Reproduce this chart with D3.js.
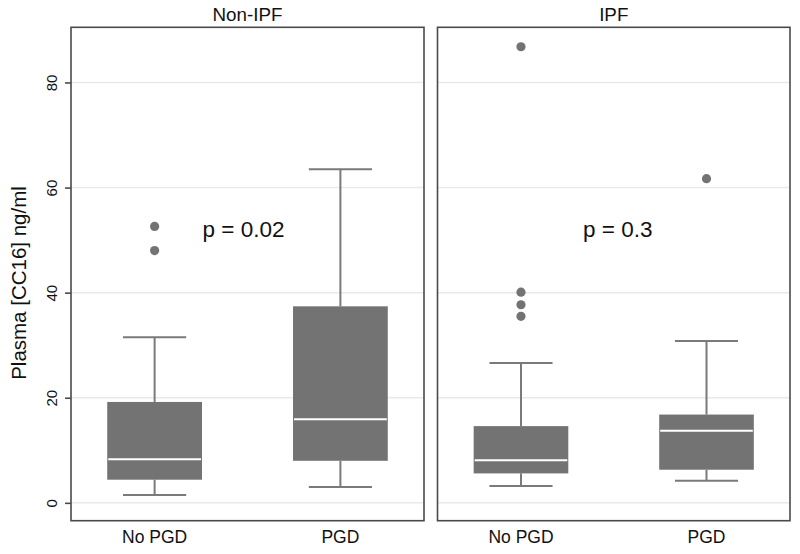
<!DOCTYPE html>
<html><head><meta charset="utf-8">
<script src="https://cdn.jsdelivr.net/npm/d3@7"></script>
<style>body{margin:0;background:#fff;}svg{display:block;font-family:"Liberation Sans",Arial,Helvetica,sans-serif;}</style>
</head><body>
<svg id="chart" width="800" height="554"></svg>
<script>
const panels = ["Non-IPF", "IPF"];
const categories = ["No PGD", "PGD"];
const yTicks = [0, 20, 40, 60, 80];
const pValues = ["p = 0.02", "p = 0.3"];
// [lowerWhisker, q1, median, q3, upperWhisker] per panel, per category
const boxStats = [
  [[1.5, 4.4, 8.3, 19.2, 31.5], [3.0, 8.0, 15.9, 37.4, 63.5]],
  [[3.2, 5.6, 8.1, 14.6, 26.6], [4.2, 6.3, 13.7, 16.8, 30.8]]
];
const outliers = [
  [[52.6, 48.0], []],
  [[86.8, 40.1, 37.7, 35.5], [61.7]]
];

const svg = d3.select("#chart");
const panelX = [[71, 424], [437.5, 790]];
const plotTop = 27.3, plotBottom = 520.7;
const y = d3.scaleLinear().domain([-3.4, 90.5]).range([plotBottom, plotTop]);
const boxFill = "#737373";

panels.forEach((name, pi) => {
  const [x0, x1] = panelX[pi];
  const g = svg.append("g");
  const x = d3.scalePoint().domain(categories).range([x0, x1]).padding(0.45);
  const step = x.step();
  const bw = step * 0.51, cw = step * 0.34;

  // gridlines
  g.selectAll("line.grid").data(yTicks).join("line")
    .attr("x1", x0).attr("x2", x1)
    .attr("y1", d => y(d)).attr("y2", d => y(d))
    .attr("stroke", "#e9e9e9").attr("stroke-width", 1.5);

  categories.forEach((c, ci) => {
    const [lo, q1, med, q3, hi] = boxStats[pi][ci];
    const cx = x(c);
    const wg = g.append("g");
    wg.append("line").attr("x1", cx).attr("x2", cx).attr("y1", y(hi)).attr("y2", y(q3))
      .attr("stroke", "#7a7a7a").attr("stroke-width", 2);
    wg.append("line").attr("x1", cx).attr("x2", cx).attr("y1", y(q1)).attr("y2", y(lo))
      .attr("stroke", "#7a7a7a").attr("stroke-width", 2);
    wg.append("line").attr("x1", cx - cw/2).attr("x2", cx + cw/2).attr("y1", y(hi)).attr("y2", y(hi))
      .attr("stroke", "#7a7a7a").attr("stroke-width", 2);
    wg.append("line").attr("x1", cx - cw/2).attr("x2", cx + cw/2).attr("y1", y(lo)).attr("y2", y(lo))
      .attr("stroke", "#7a7a7a").attr("stroke-width", 2);
    wg.append("rect").attr("x", cx - bw/2).attr("width", bw)
      .attr("y", y(q3)).attr("height", y(q1) - y(q3)).attr("fill", boxFill);
    wg.append("line").attr("x1", cx - bw/2 + 1).attr("x2", cx + bw/2 - 1)
      .attr("y1", y(med)).attr("y2", y(med)).attr("stroke", "#fff").attr("stroke-width", 2);
    wg.selectAll("circle").data(outliers[pi][ci]).join("circle")
      .attr("cx", cx).attr("cy", d => y(d)).attr("r", 4.6).attr("fill", boxFill);
  });

  // p-value text
  g.append("text").attr("x", (x(categories[0]) + x(categories[1])) / 2 + (pi === 0 ? -4 : 4))
    .attr("y", y(50.6)).attr("text-anchor", "middle")
    .attr("font-size", 22.5).attr("fill", "#111").text(pValues[pi]);

  // panel frame
  g.append("rect").attr("x", x0).attr("y", plotTop).attr("width", x1 - x0).attr("height", plotBottom - plotTop)
    .attr("fill", "none").attr("stroke", "#4a4a4a").attr("stroke-width", 1.6);

  // panel title
  g.append("text").attr("x", (x0 + x1) / 2).attr("y", 20.5).attr("text-anchor", "middle")
    .attr("font-size", 18.8).attr("fill", "#111").text(name);

  // category labels
  g.selectAll("text.cat").data(categories).join("text")
    .attr("x", d => x(d)).attr("y", 543).attr("text-anchor", "middle")
    .attr("font-size", 17.5).attr("fill", "#111").text(d => d);
});

// y axis on left panel
const axis = d3.axisLeft(y).tickValues(yTicks).tickSize(6).tickPadding(8);
const ag = svg.append("g").attr("transform", `translate(${panelX[0][0]},0)`).call(axis);
ag.select(".domain").remove();
ag.selectAll(".tick line").attr("stroke", "#4a4a4a").attr("stroke-width", 1.6);
ag.selectAll(".tick text")
  .attr("font-size", 15).attr("fill", "#111")
  .attr("font-family", '"Liberation Sans",Arial,sans-serif')
  .attr("transform", "rotate(-90, -19, 0)")
  .attr("x", -19).attr("y", 0).attr("dy", "0.35em").attr("text-anchor", "middle");

// y axis title
svg.append("text").attr("transform", "translate(26,283) rotate(-90)")
  .attr("text-anchor", "middle").attr("font-size", 20.5).attr("fill", "#111")
  .text("Plasma [CC16] ng/ml");
</script>
</body></html>
